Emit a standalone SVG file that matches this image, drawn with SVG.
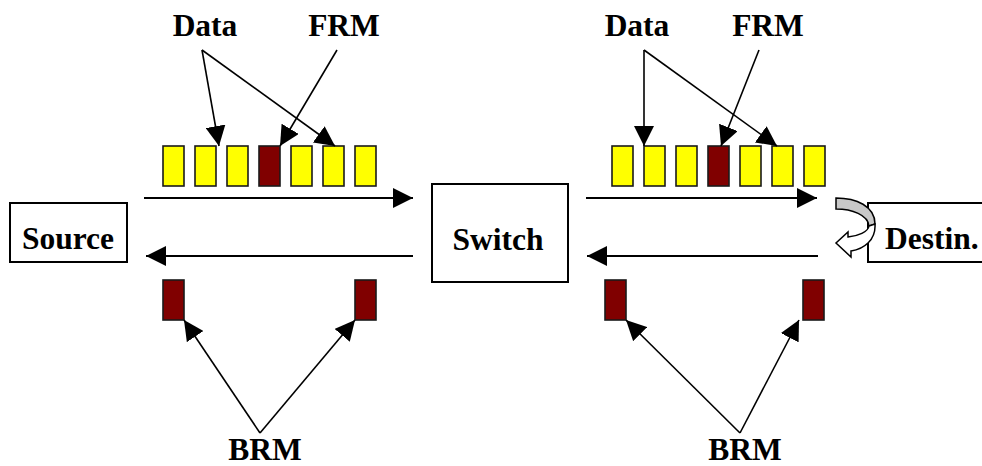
<svg xmlns="http://www.w3.org/2000/svg" width="982" height="466" viewBox="0 0 982 466">
<style>
.box{fill:#fff;stroke:#000;stroke-width:2}
.lbl{font-family:"Liberation Serif","Times New Roman",serif;font-weight:bold;font-size:31.5px;fill:#000}
.d{fill:#ffff00;stroke:#1a1a1a;stroke-width:1.6}
.r{fill:#800000;stroke:#1a1a1a;stroke-width:1.6}
.ln{stroke:#000;stroke-width:2;fill:none;marker-end:url(#ah)}
.ln2{stroke:#000;stroke-width:1.6;fill:none;marker-end:url(#ah)}
</style>
<defs>
<marker id="ah" markerUnits="userSpaceOnUse" markerWidth="20" markerHeight="20" refX="20" refY="10" orient="auto" viewBox="0 0 20 20">
<path d="M0,0 L20,10 L0,20 Z" fill="#000"/>
</marker>
</defs>
<rect width="982" height="466" fill="#fff"/>

<g id="source"><rect class="box" x="10" y="203" width="117" height="59"/><text class="lbl" x="68" y="249" text-anchor="middle">Source</text></g>
<g id="switch"><rect class="box" x="432" y="184" width="136" height="98"/><text class="lbl" x="498" y="250" text-anchor="middle">Switch</text></g>
<g id="destination"><rect class="box" x="868" y="203" width="122" height="59"/><text class="lbl" x="885" y="249">Destin.</text></g>

<g id="cells-left-forward">
<rect class="d" x="163" y="146" width="21" height="40"/>
<rect class="d" x="195" y="146" width="21" height="40"/>
<rect class="d" x="227" y="146" width="21" height="40"/>
<rect class="r" x="259" y="146" width="21" height="40"/>
<rect class="d" x="291" y="146" width="21" height="40"/>
<rect class="d" x="323" y="146" width="21" height="40"/>
<rect class="d" x="355" y="146" width="21" height="40"/>
</g>
<g id="cells-right-forward">
<rect class="d" x="612" y="146" width="21" height="40"/>
<rect class="d" x="644" y="146" width="21" height="40"/>
<rect class="d" x="676" y="146" width="21" height="40"/>
<rect class="r" x="708" y="146" width="21" height="40"/>
<rect class="d" x="740" y="146" width="21" height="40"/>
<rect class="d" x="772" y="146" width="21" height="40"/>
<rect class="d" x="804" y="146" width="21" height="40"/>
</g>
<g id="cells-backward">
<rect class="r" x="163" y="280" width="21" height="40"/>
<rect class="r" x="355" y="280" width="21" height="40"/>
<rect class="r" x="605" y="280" width="21" height="40"/>
<rect class="r" x="803" y="280" width="21" height="40"/>
</g>

<g id="labels">
<text class="lbl" x="205" y="36" text-anchor="middle">Data</text>
<text class="lbl" x="344" y="36" text-anchor="middle">FRM</text>
<text class="lbl" x="637" y="36" text-anchor="middle">Data</text>
<text class="lbl" x="768" y="36" text-anchor="middle">FRM</text>
<text class="lbl" x="265" y="460" text-anchor="middle">BRM</text>
<text class="lbl" x="745" y="460" text-anchor="middle">BRM</text>
</g>

<g id="connectors">
<line class="ln" x1="144" y1="198" x2="413" y2="198"/>
<line class="ln" x1="413" y1="256" x2="146" y2="256"/>
<line class="ln" x1="586" y1="198" x2="817" y2="198"/>
<line class="ln" x1="818" y1="256" x2="587" y2="256"/>
<line class="ln2" x1="202" y1="50" x2="219" y2="146"/>
<line class="ln2" x1="202" y1="50" x2="335" y2="146"/>
<line class="ln2" x1="337" y1="50" x2="280" y2="146"/>
<line class="ln2" x1="644" y1="50" x2="644" y2="146"/>
<line class="ln2" x1="644" y1="50" x2="777" y2="146"/>
<line class="ln2" x1="759" y1="50" x2="721" y2="146"/>
<line class="ln2" x1="260" y1="433" x2="184" y2="320"/>
<line class="ln2" x1="260" y1="433" x2="355" y2="320"/>
<line class="ln2" x1="740" y1="433" x2="626" y2="320"/>
<line class="ln2" x1="740" y1="433" x2="799" y2="320"/>
</g>

<g id="turnaround">
<path d="M836,198 C856,198 875,206 875,224 L869,226 C868,215 852,209 836,209 Z" fill="#c8c8c8" stroke="#000" stroke-width="1.5"/>
<path d="M875,224 C876,240 864,249 851,251 L851,257 L836,243 L848,232 L848,237 C858,236 868,232 869,226 Z" fill="#fff" stroke="#000" stroke-width="1.5"/>
</g>
</svg>
